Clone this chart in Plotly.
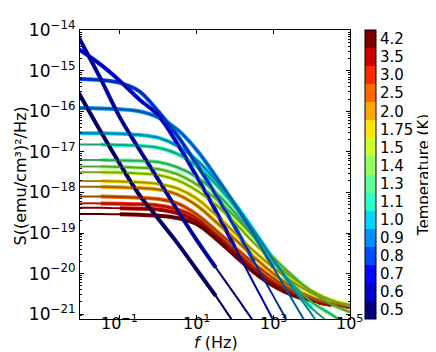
import math
import plotly.graph_objects as go

# Temperatures (K) and their colours (discrete jet)
TEMPS = ["0.5", "0.6", "0.7", "0.8", "0.9", "1.0", "1.1", "1.3",
         "1.4", "1.5", "1.75", "2.0", "2.5", "3.0", "3.5", "4.2"]
COLORS = ["#000080", "#0000cd", "#0008ff", "#004cff", "#0090ff", "#00d4ff",
          "#29ffce", "#60ff97", "#97ff60", "#ceff29", "#ffe600", "#ffa700",
          "#ff6800", "#ff2900", "#cd0000", "#800000"]

# frequency nodes, log10(f / Hz)
LOGF = [-2.1, -1.5, -1.0, -0.5, 0.0, 0.5, 1.0, 1.5, 2.0, 2.5, 3.0, 3.5, 4.0, 4.5, 5.0]

# log10 S at the LOGF nodes
S_05 = [-15.50, -16.50, -17.30, -18.05, -18.65, -19.25, -19.90, -20.55, -21.25, -21.9, -22.5, -23.1, -23.7, -24.3, -24.9]
S_06 = [-14.13, -15.20, -16.15, -16.93, -17.68, -18.44, -19.17, -19.85, -20.52, -21.20, -21.9, -22.6, -23.3, -24.0, -24.7]
S_07 = [-14.45, -14.85, -15.25, -15.70, -16.10, -16.80, -17.60, -18.45, -19.35, -20.25, -21.15, -22.1, -23.0, -23.9, -24.8]
S_08 = [-15.20, -15.23, -15.30, -15.50, -16.00, -16.60, -17.30, -18.05, -18.85, -19.70, -20.55, -21.40, -22.2, -23.0, -23.8]
S_09 = [-15.92, -15.93, -15.95, -16.00, -16.15, -16.45, -16.95, -17.60, -18.30, -19.05, -19.85, -20.65, -21.45, -22.2, -23.0]
S_10 = [-16.54, -16.54, -16.55, -16.58, -16.65, -16.85, -17.20, -17.70, -18.28, -18.95, -19.65, -20.35, -21.00, -21.7, -22.4]
S_11 = [-16.82, -16.82, -16.83, -16.85, -16.90, -17.05, -17.35, -17.80, -18.35, -18.98, -19.65, -20.30, -20.85, -21.25, -21.7]
S_13 = [-17.20, -17.20, -17.21, -17.22, -17.25, -17.38, -17.62, -18.00, -18.50, -19.10, -19.70, -20.25, -20.70, -21.00, -21.30]
S_14 = [-17.36, -17.36, -17.37, -17.39, -17.42, -17.55, -17.80, -18.15, -18.60, -19.10, -19.60, -20.05, -20.45, -20.75, -20.95]
S_15 = [-17.50, -17.50, -17.51, -17.53, -17.57, -17.70, -17.95, -18.30, -18.75, -19.25, -19.70, -20.10, -20.42, -20.65, -20.80]
S_175 = [-17.72, -17.72, -17.73, -17.75, -17.79, -17.90, -18.15, -18.55, -19.00, -19.45, -19.85, -20.20, -20.48, -20.66, -20.77]
S_20 = [-17.86, -17.86, -17.87, -17.89, -17.93, -18.05, -18.32, -18.72, -19.15, -19.60, -20.00, -20.35, -20.58, -20.72, -20.80]
S_25 = [-18.10, -18.10, -18.11, -18.13, -18.16, -18.27, -18.54, -18.93, -19.35, -19.76, -20.12, -20.42, -20.62, -20.74, -20.81]
S_30 = [-18.27, -18.27, -18.28, -18.29, -18.32, -18.42, -18.63, -19.02, -19.44, -19.85, -20.20, -20.47, -20.65, -20.76, -20.82]
S_35 = [-18.38, -18.38, -18.39, -18.40, -18.42, -18.51, -18.70, -19.08, -19.50, -19.92, -20.26, -20.50, -20.67, -20.77, -20.82]
S_42 = [-18.53, -18.53, -18.54, -18.55, -18.57, -18.63, -18.78, -19.14, -19.56, -19.97, -20.30, -20.53, -20.68, -20.77, -20.83]

# measured frequency window of each data set, log10(f / Hz)
DATA_FROM = [-2.1, -2.1, -2.1, -2.1, -2.1, -2.1, -2.0, -2.0, -1.9, -1.8, -1.8, -1.6, -1.5, -1.5, -1.4, -1.4]
DATA_TO = [1.9, 1.9, 2.2, 2.6, 3.2, 3.6, 4.0, 5.0, 5.0, 5.0, 5.0, 5.0, 5.0, 5.0, 5.0, 5.0]

CURVES = [S_05, S_06, S_07, S_08, S_09, S_10, S_11, S_13,
          S_14, S_15, S_175, S_20, S_25, S_30, S_35, S_42]

# axis tick labels
XTICKS = [0.1, 10, 1000, 100000]
XTEXT = ["10<sup>−1</sup>", "10<sup>1</sup>", "10<sup>3</sup>", "10<sup>5</sup>"]
YTICKS = [1e-21, 1e-20, 1e-19, 1e-18, 1e-17, 1e-16, 1e-15, 1e-14]
YTEXT = ["10<sup>−21</sup>", "10<sup>−20</sup>", "10<sup>−19</sup>", "10<sup>−18</sup>",
         "10<sup>−17</sup>", "10<sup>−16</sup>", "10<sup>−15</sup>", "10<sup>−14</sup>"]


def darker(hexc, k=0.62):
    r, g, b = int(hexc[1:3], 16), int(hexc[3:5], 16), int(hexc[5:7], 16)
    return "rgb(%d,%d,%d)" % (r * k, g * k, b * k)


fig = go.Figure()
FONT = "DejaVu Sans"

# measured data (drawn as a band of the bright colour)
for i in reversed(range(len(TEMPS))):
    xs, ys = [], []
    for lf, ls in zip(LOGF, CURVES[i]):
        if DATA_FROM[i] - 1e-9 <= lf <= DATA_TO[i] + 1e-9:
            xs.append(10 ** lf)
            ys.append(10 ** ls)
    fig.add_trace(go.Scatter(x=xs, y=ys, mode="lines",
                             line=dict(color=COLORS[i], width=4, shape="spline"),
                             showlegend=False, hoverinfo="skip"))

# fitted curves
for i in reversed(range(len(TEMPS))):
    fig.add_trace(go.Scatter(x=[10 ** v for v in LOGF], y=[10 ** v for v in CURVES[i]],
                             mode="lines",
                             line=dict(color=darker(COLORS[i]), width=2, shape="spline"),
                             showlegend=False, name=TEMPS[i] + " K"))

# discrete colour bar
n = len(TEMPS)
cscale = []
for i, c in enumerate(COLORS):
    cscale.append([i / n, c])
    cscale.append([(i + 1) / n, c])
fig.add_trace(go.Scatter(
    x=[10 ** 2], y=[1e-17], mode="markers",
    marker=dict(size=1, opacity=0, color=[0], colorscale=cscale, cmin=0, cmax=n,
                showscale=True,
                colorbar=dict(
                    tickvals=[i + 0.5 for i in range(n)], ticktext=TEMPS,
                    ticks="", ticklen=0,
                    tickfont=dict(family=FONT, size=15, color="black"),
                    thickness=11, thicknessmode="pixels",
                    len=1.0, lenmode="fraction", y=0.5, yanchor="middle",
                    x=1.054, xanchor="left", xpad=0, ypad=0,
                    outlinewidth=1, outlinecolor="black",
                    title=dict(text="Temperature (K)", side="right",
                               font=dict(family=FONT, size=15, color="black")),
                )),
    showlegend=False, hoverinfo="skip"))

pw, ph = 436 - 72 - 87, 352 - 10 - 41

annotations = []
# x tick labels placed as text just under the axis
for tv, tt in zip(XTICKS, XTEXT):
    annotations.append(dict(text=tt, x=math.log10(tv), xref="x",
                            y=(311 - 315) / ph, yref="paper",
                            xanchor="center", yanchor="middle", showarrow=False,
                            font=dict(family=FONT, size=16)))
annotations.append(dict(text="<i>f</i> (Hz)", x=(212 - 72) / pw, y=(311 - 335) / ph,
                        xref="paper", yref="paper", xanchor="center", yanchor="middle",
                        showarrow=False, font=dict(family=FONT, size=16)))
annotations.append(dict(text="S((emu/cm³)²/Hz)", textangle=-90,
                        x=(11 - 72) / pw, y=(311 - 162) / ph,
                        xref="paper", yref="paper", xanchor="center", yanchor="middle",
                        showarrow=False, font=dict(family=FONT, size=16)))

fig.update_layout(
    width=436, height=352,
    margin=dict(l=72, r=87, t=10, b=41),
    paper_bgcolor="white", plot_bgcolor="white",
    font=dict(family=FONT, size=16, color="black"),
    xaxis=dict(type="log", range=[-2.04, 5.002],
               tickvals=XTICKS, showticklabels=False,
               ticks="inside", ticklen=4, tickcolor="black",
               showgrid=False, zeroline=False,
               showline=True, linecolor="black", linewidth=1, mirror="ticks"),
    yaxis=dict(type="log", range=[-21.12, -13.995],
               tickvals=YTICKS, ticktext=YTEXT,
               ticks="inside", ticklen=4, tickcolor="black",
               minor=dict(ticks="inside", ticklen=2, tickcolor="black", dtick="D1"),
               showgrid=False, zeroline=False,
               showline=True, linecolor="black", linewidth=1, mirror="ticks",
               ticklabeloverflow="allow",
               tickfont=dict(family=FONT, size=17)),
    annotations=annotations,
)

fig.write_html("out.html")
